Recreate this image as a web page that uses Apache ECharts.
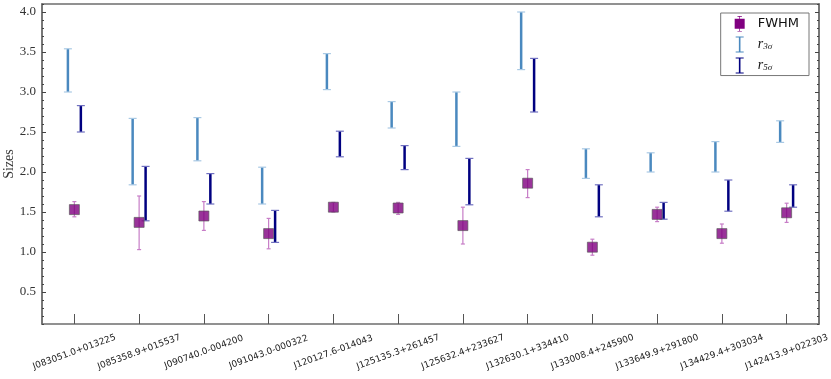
<!DOCTYPE html>
<html>
<head>
<meta charset="utf-8">
<script src="https://cdn.jsdelivr.net/npm/echarts@6/dist/echarts.min.js"></script>
<style>
  html, body { margin: 0; padding: 0; background: #fff; }
  #chart { width: 831px; height: 379px; }
</style>
</head>
<body>
<div id="chart"></div>
<script>
var sources = ['J083051.0+013225', 'J085358.9+015537', 'J090740.0-004200', 'J091043.0-000322',
    'J120127.6-014043', 'J125135.3+261457', 'J125632.4+233627', 'J132630.1+334410',
    'J133008.4+245900', 'J133649.9+291800', 'J134429.4+303034', 'J142413.9+022303'];

// FWHM 点值及误差上下限
var fwhm    = [1.53, 1.37, 1.45, 1.23, 1.56, 1.55, 1.33, 1.86, 1.06, 1.47, 1.23, 1.49];
var fwhmLo  = [1.44, 1.03, 1.27, 1.04, 1.50, 1.47, 1.10, 1.68, 0.96, 1.38, 1.11, 1.37];
var fwhmHi  = [1.63, 1.70, 1.63, 1.42, 1.62, 1.62, 1.56, 2.03, 1.16, 1.56, 1.35, 1.61];
// r_3sigma 区间
var r3Lo    = [3.00, 1.84, 2.14, 1.60, 3.03, 2.55, 2.32, 3.28, 1.92, 2.00, 2.00, 2.37];
var r3Hi    = [3.54, 2.67, 2.68, 2.06, 3.48, 2.88, 3.00, 4.00, 2.29, 2.24, 2.38, 2.64];
// r_5sigma 区间
var r5Lo    = [2.50, 1.39, 1.60, 1.12, 2.19, 2.03, 1.59, 2.75, 1.44, 1.41, 1.51, 1.56];
var r5Hi    = [2.83, 2.07, 1.98, 1.52, 2.51, 2.33, 2.17, 3.42, 1.84, 1.62, 1.90, 1.84];

var majorTicks = [0.5, 1.0, 1.5, 2.0, 2.5, 3.0, 3.5, 4.0];

var chart = echarts.init(document.getElementById('chart'));

function rangeData(lo, hi) {
    var arr = [];
    for (var i = 0; i < lo.length; i++) {
        arr.push([i, lo[i], hi[i]]);
    }
    return arr;
}

// 误差棒绘制：offset 为相对类目宽度的偏移
function errorBar(offset, color, capColor, width, capHalf) {
    return function (params, api) {
        var band = api.size([1, 0])[0];
        var top = api.coord([api.value(0), api.value(2)]);
        var bot = api.coord([api.value(0), api.value(1)]);
        var x = top[0] + band * offset;
        return {
            type: 'group',
            children: [
                { type: 'line', shape: { x1: x, y1: top[1], x2: x, y2: bot[1] },
                  style: { stroke: color, lineWidth: width } },
                { type: 'line', shape: { x1: x - capHalf, y1: top[1], x2: x + capHalf, y2: top[1] },
                  style: { stroke: capColor, lineWidth: 1.2 } },
                { type: 'line', shape: { x1: x - capHalf, y1: bot[1], x2: x + capHalf, y2: bot[1] },
                  style: { stroke: capColor, lineWidth: 1.2 } }
            ]
        };
    };
}

var axisColor = '#6e6e6e';
var serif = 'Liberation Serif';

function yAxisCfg(pos, major, showLabel) {
    return {
        type: 'value',
        position: pos,
        min: 0.1,
        max: 4.1,
        interval: 0.1,
        axisLine: { show: true, onZero: false, lineStyle: { color: axisColor, width: 1.5 } },
        axisTick: major ? { show: true, inside: true, length: 4, customValues: majorTicks, lineStyle: { color: '#444', width: 1 } }
                        : { show: true, inside: true, length: 2, lineStyle: { color: '#444', width: 1 } },
        axisLabel: showLabel ? {
            customValues: majorTicks, margin: 6, color: '#333',
            fontFamily: serif, fontSize: 13,
            formatter: function (v) { return v.toFixed(1); }
        } : { show: false },
        splitLine: { show: false },
        name: showLabel ? 'Sizes' : '',
        nameLocation: 'middle',
        nameGap: 26,
        nameMoveOverlap: false,
        nameTextStyle: { fontFamily: serif, fontSize: 14, color: '#333' }
    };
}

var option = {
    backgroundColor: '#fff',
    animation: false,
    grid: {
        left: 42, right: 12, top: 4, bottom: 55,
        containLabel: false,
        outerBoundsMode: 'none'
    },
    legend: {
        right: 22, top: 13,
        orient: 'vertical',
        backgroundColor: '#fff',
        borderColor: '#777',
        borderWidth: 1,
        padding: [3, 10, 2, 14],
        itemGap: 5,
        itemWidth: 10,
        itemHeight: 16,
        data: [
            { name: 'FWHM', icon: 'path://M3,0H7V0.6H5.3V2.5H9.5V11.5H5.3V13.4H7V14H3V13.4H4.7V11.5H0.5V2.5H4.7V0.6H3Z' },
            { name: 'r3', icon: 'path://M0,0H8V1H4.8V15H8V16H0V15H3.2V1H0Z' },
            { name: 'r5', icon: 'path://M0,0H8V1H4.8V15H8V16H0V15H3.2V1H0Z' }
        ],
        formatter: function (name) {
            if (name === 'FWHM') return '{t|FWHM}';
            if (name === 'r3') return '{i|r}{s|3σ}';
            return '{i|r}{s|5σ}';
        },
        textStyle: {
            padding: [0, 0, 0, 8],
            rich: {
                t: { fontFamily: 'DejaVu Sans', fontSize: 13, color: '#111' },
                i: { fontFamily: serif, fontStyle: 'italic', fontSize: 14, color: '#111' },
                s: { fontFamily: serif, fontStyle: 'italic', fontSize: 9, color: '#111', padding: [5, 0, 0, 0] }
            }
        }
    },
    xAxis: [
        {
            type: 'category',
            data: sources,
            boundaryGap: true,
            position: 'bottom',
            axisLine: { show: true, onZero: false, lineStyle: { color: axisColor, width: 1.5 } },
            axisTick: { show: true, inside: true, length: 10, alignWithLabel: true, lineStyle: { color: '#555', width: 1 } },
            axisLabel: {
                rotate: 20, interval: 0,
                align: 'center', verticalAlign: 'middle',
                margin: 28,
                fontFamily: 'DejaVu Sans', fontSize: 9, color: '#222'
            },
            splitLine: { show: false }
        },
        {
            type: 'category',
            data: sources,
            position: 'top',
            axisLine: { show: true, onZero: false, lineStyle: { color: axisColor, width: 1.5 } },
            axisTick: { show: false },
            axisLabel: { show: false },
            splitLine: { show: false }
        }
    ],
    yAxis: [
        yAxisCfg('left', true, true),
        yAxisCfg('left', false, false),
        yAxisCfg('right', true, false),
        yAxisCfg('right', false, false)
    ],
    series: [
        {
            name: 'r3',
            type: 'custom',
            itemStyle: { color: '#4a89bf' },
            renderItem: errorBar(-0.1, '#4a89bf', '#a9c9e4', 2.5, 4),
            data: rangeData(r3Lo, r3Hi),
            z: 2
        },
        {
            name: 'r5',
            type: 'custom',
            itemStyle: { color: '#000080' },
            renderItem: errorBar(0.1, '#000080', '#7070c0', 2.5, 4),
            data: rangeData(r5Lo, r5Hi),
            z: 2
        },
        {
            name: 'FWHM',
            type: 'custom',
            itemStyle: { color: '#800080' },
            renderItem: errorBar(0, '#c77dc7', '#c77dc7', 1.2, 2),
            data: rangeData(fwhmLo, fwhmHi),
            z: 3
        },
        {
            name: 'FWHM',
            type: 'scatter',
            symbol: 'rect',
            symbolSize: 10,
            itemStyle: { color: '#800080', borderColor: '#555', borderWidth: 0.8 },
            data: fwhm,
            z: 4
        }
    ]
};

chart.setOption(option);
</script>
</body>
</html>
